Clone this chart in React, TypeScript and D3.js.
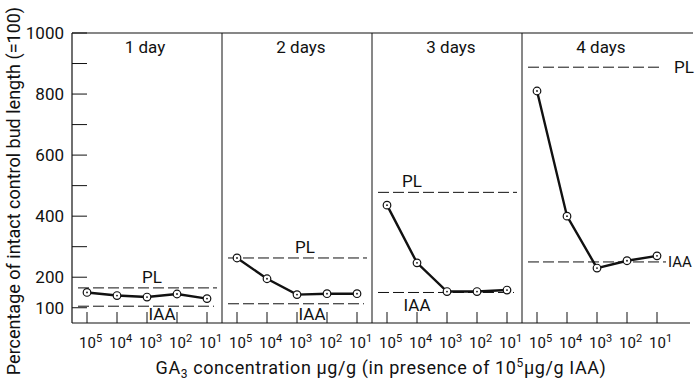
import React, { useEffect, useRef } from 'react';
import * as d3 from 'd3';

const days = ['1 day', '2 days', '3 days', '4 days'];
const concentrations = ['5', '4', '3', '2', '1']; // exponents of 10, µg/g GA3
const growth1 = [150, 140, 135, 145, 130];
const growth2 = [263, 195, 143, 146, 146];
const growth3 = [436, 247, 153, 153, 158];
const growth4 = [810, 400, 230, 254, 270];
const plLevels = [165, 263, 478, 888];
const iaaLevels = [105, 113, 150, 250];
const yTickLabels = [100, 200, 400, 600, 800, 1000];
const yTicks = [100, 200, 300, 400, 500, 600, 700, 800, 900, 1000];

const W = 695;
const H = 385;
const FONT = 'Roboto, "DejaVu Sans Condensed", sans-serif';

const App: React.FC = () => {
  const svgRef = useRef<SVGSVGElement>(null);

  useEffect(() => {
    document.body.style.margin = '0';
    if (!svgRef.current) return;
    const svg = d3.select(svgRef.current);
    svg.selectAll('*').remove();

    const series = [growth1, growth2, growth3, growth4];

    const y = d3.scaleLinear().domain([50, 1000]).range([323, 33]);
    const panel = d3.scaleBand<string>().domain(days).range([72, 672]).padding(0);
    const inner = d3.scalePoint<string>().domain(concentrations).range([0, panel.bandwidth()]).padding(0.5);

    const ink = '#111';
    const g = svg.append('g').attr('font-family', FONT).attr('fill', ink);

    // frame: top line, baseline, y axis
    g.append('line').attr('x1', 72).attr('x2', 693).attr('y1', y(1000)).attr('y2', y(1000))
      .attr('stroke', ink).attr('stroke-width', 1.2);
    g.append('line').attr('x1', 72).attr('x2', 690).attr('y1', y(50)).attr('y2', y(50))
      .attr('stroke', ink).attr('stroke-width', 1.2);
    g.append('line').attr('x1', 72).attr('x2', 72).attr('y1', y(1000)).attr('y2', y(50))
      .attr('stroke', ink).attr('stroke-width', 1.2);

    // y ticks (inward)
    g.selectAll('line.ytick').data(yTicks).enter().append('line')
      .attr('class', 'ytick')
      .attr('x1', 72).attr('x2', 87)
      .attr('y1', d => y(d)).attr('y2', d => y(d))
      .attr('stroke', ink).attr('stroke-width', 1);
    g.selectAll('text.ylab').data(yTickLabels).enter().append('text')
      .attr('class', 'ylab')
      .attr('x', 64).attr('y', d => y(d) + 6)
      .attr('text-anchor', 'end')
      .attr('font-size', 17)
      .text(d => d);

    // y title
    g.append('text')
      .attr('transform', `translate(20, 191) rotate(-90)`)
      .attr('text-anchor', 'middle')
      .attr('font-size', 18)
      .text('Percentage of intact control bud length (=100)');

    days.forEach((day, i) => {
      const x0 = panel(day)!;
      const x1 = x0 + panel.bandwidth();
      const px = (c: string) => x0 + inner(c)!;

      // right divider for first three panels
      if (i < 3) {
        g.append('line').attr('x1', x1).attr('x2', x1).attr('y1', y(1000)).attr('y2', y(50))
          .attr('stroke', ink).attr('stroke-width', 1);
      }

      // panel title
      g.append('text')
        .attr('x', x0 + panel.bandwidth() / 2 + (i === 0 ? -2 : 4))
        .attr('y', 53)
        .attr('text-anchor', 'middle')
        .attr('font-size', 17)
        .text(day);

      // x ticks
      concentrations.forEach(c => {
        g.append('line').attr('x1', px(c)).attr('x2', px(c)).attr('y1', y(50)).attr('y2', y(50) - 11)
          .attr('stroke', ink).attr('stroke-width', 1);
        const t = g.append('text')
          .attr('x', px(c) - 8).attr('y', 348)
          .attr('font-size', 15);
        t.append('tspan').text('10');
        t.append('tspan').attr('dy', -6).attr('font-size', 11).text(c);
      });

      // reference lines
      const plEnd = i === 3 ? x1 - 10 : x1 - 5;
      g.append('line')
        .attr('x1', x0 + 6).attr('x2', plEnd)
        .attr('y1', y(plLevels[i])).attr('y2', y(plLevels[i]))
        .attr('stroke', ink).attr('stroke-width', 1).attr('stroke-dasharray', '11,4');
      g.append('line')
        .attr('x1', x0 + 6).attr('x2', i === 3 ? x1 - 6 : x1 - 8)
        .attr('y1', y(iaaLevels[i])).attr('y2', y(iaaLevels[i]))
        .attr('stroke', ink).attr('stroke-width', 1).attr('stroke-dasharray', '11,4');

      // reference labels
      if (i < 2) {
        g.append('text').attr('x', x0 + 80 + i * 3).attr('y', y(plLevels[i]) - 5)
          .attr('text-anchor', 'middle').attr('font-size', 17).text('PL');
        g.append('text').attr('x', x0 + 90).attr('y', 320)
          .attr('text-anchor', 'middle').attr('font-size', 17).text('IAA');
      } else if (i === 2) {
        g.append('text').attr('x', x0 + 40).attr('y', y(plLevels[i]) - 5)
          .attr('text-anchor', 'middle').attr('font-size', 17).text('PL');
        g.append('text').attr('x', x0 + 45).attr('y', y(iaaLevels[i]) + 19)
          .attr('text-anchor', 'middle').attr('font-size', 17).text('IAA');
      } else {
        g.append('text').attr('x', x1 + 2).attr('y', y(plLevels[i]) + 6)
          .attr('font-size', 17).text('PL');
        g.append('text').attr('x', x1 - 4).attr('y', y(iaaLevels[i]) + 5)
          .attr('font-size', 15).text('IAA');
      }

      // data line
      const data = series[i];
      const line = d3.line<number>()
        .x((_, k) => px(concentrations[k]))
        .y(d => y(d));
      g.append('path').datum(data).attr('d', line)
        .attr('fill', 'none').attr('stroke', ink).attr('stroke-width', 2.4);

      g.selectAll(`circle.p${i}`).data(data).enter().append('circle')
        .attr('class', `p${i}`)
        .attr('cx', (_, k) => px(concentrations[k])).attr('cy', d => y(d))
        .attr('r', 3.8).attr('fill', '#fff').attr('stroke', ink).attr('stroke-width', 1.2);
      g.selectAll(`circle.c${i}`).data(data).enter().append('circle')
        .attr('class', `c${i}`)
        .attr('cx', (_, k) => px(concentrations[k])).attr('cy', d => y(d))
        .attr('r', 0.9).attr('fill', ink);
    });

    // x title
    const xt = g.append('text').attr('x', 381).attr('y', 374)
      .attr('text-anchor', 'middle').attr('font-size', 18).attr('letter-spacing', 0.6);
    xt.append('tspan').text('GA');
    xt.append('tspan').attr('dy', 4).attr('font-size', 12).text('3');
    xt.append('tspan').attr('dy', -4).text(' concentration \u03bcg/g (in presence of 10');
    xt.append('tspan').attr('dy', -7).attr('font-size', 12).text('5');
    xt.append('tspan').attr('dy', 7).text('\u03bcg/g IAA)');
  }, []);

  return <svg ref={svgRef} width={W} height={H} style={{ display: 'block', background: '#fff' }} />;
};

export default App;
